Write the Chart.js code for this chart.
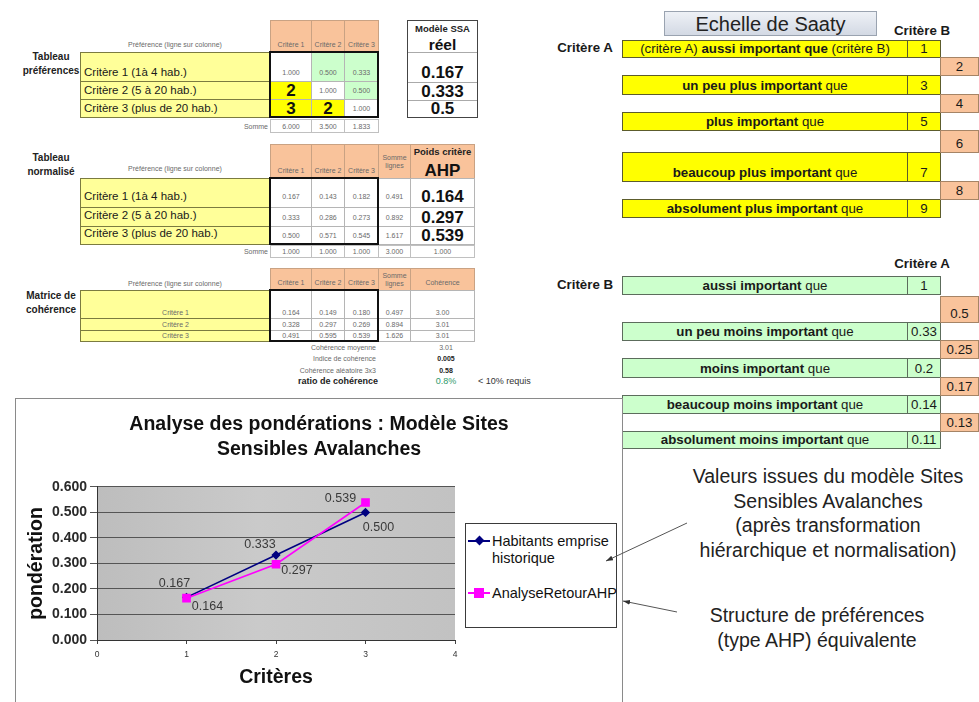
<!DOCTYPE html>
<html><head><meta charset="utf-8">
<script src="https://cdn.jsdelivr.net/npm/chart.js@4"></script>
<style>
html,body{margin:0;padding:0;background:#fff;}
body{width:979px;height:702px;overflow:hidden;position:relative;font-family:"Liberation Sans",Arial,sans-serif;color:#1a1a1a;}
.c{position:absolute;box-sizing:border-box;display:flex;align-items:center;justify-content:center;white-space:nowrap;line-height:1;}
.s{font-size:7px;color:#6a6a6a;}
</style></head><body>
<div id="stage"></div>
<div id="frame" style="position:absolute;left:15px;top:398px;width:608px;height:330px;border:1px solid #8a8a8a;box-sizing:border-box;background:#fff;">
<canvas id="chart" width="606" height="303" style="display:block;width:606px;height:303px"></canvas></div>
<div id="over"></div>
<svg width="979" height="702" style="position:absolute;left:0;top:0;pointer-events:none">
<defs><marker id="ah" markerWidth="8" markerHeight="8" refX="7" refY="4" orient="auto" markerUnits="userSpaceOnUse"><path d="M0,1.5 L7,4 L0,6.5 z" fill="#333"/></marker></defs>
<line x1="687" y1="523" x2="606" y2="561" stroke="#555" stroke-width="1" marker-end="url(#ah)"/>
<line x1="677" y1="612" x2="623" y2="601" stroke="#555" stroke-width="1" marker-end="url(#ah)"/>
</svg>
<script>
// ---------------- DATA ----------------
const criteria = ["Critère 1 (1à 4 hab.)","Critère 2 (5 à 20 hab.)","Critère 3 (plus de 20 hab.)"];
const colHeads = ["Critère 1","Critère 2","Critère 3"];
const prefMatrix = [["1.000","0.500","0.333"],["2","1.000","0.500"],["3","2","1.000"]];
const prefSums = ["6.000","3.500","1.833"];
const ssaReal = ["0.167","0.333","0.5"];
const normMatrix = [["0.167","0.143","0.182"],["0.333","0.286","0.273"],["0.500","0.571","0.545"]];
const normRowSums = ["0.491","0.892","1.617"];
const ahpWeights = ["0.164","0.297","0.539"];
const normSums = ["1.000","1.000","1.000","3.000","1.000"];
const cohMatrix = [["0.164","0.149","0.180"],["0.328","0.297","0.269"],["0.491","0.595","0.539"]];
const cohRowSums = ["0.497","0.894","1.626"];
const cohValues = ["3.00","3.01","3.01"];
const cohStatLabels = ["Cohérence moyenne","Indice de cohérence","Cohérence aléatoire 3x3"];
const cohStatValues = ["3.01","0.005","0.58"];
const cohRatio = "0.8%";
const saatyMore = ["aussi important","un peu plus important","plus important","beaucoup plus important","absolument plus important"];
const saatyMoreVals = ["1","3","5","7","9"];
const saatyMoreMid = ["2","4","6","8"];
const saatyLess = ["aussi important","un peu moins important","moins important","beaucoup moins important","absolument moins important"];
const saatyLessVals = ["1","0.33","0.2","0.14","0.11"];
const saatyLessMid = ["0.5","0.25","0.17","0.13"];
// chart
const chartTitle = ["Analyse des pondérations : Modèle Sites","Sensibles Avalanches"];
const xCriteres = [1,2,3];
const seriesNames = ["Habitants emprise historique","AnalyseRetourAHP"];
const habitants = [0.167,0.333,0.500];
const analyseRetourAHP = [0.164,0.297,0.539];
const yTickLabels = ["0.000","0.100","0.200","0.300","0.400","0.500","0.600"];
const xTickLabels = ["0","1","2","3","4"];

// ---------------- LAYOUT HELPERS ----------------
const stage = document.getElementById('stage');
function put(x,y,w,h,html,css,parent){
  const d=document.createElement('div');d.className='c';
  d.style.cssText=`left:${x}px;top:${y}px;width:${w}px;height:${h}px;`+(css||'');
  d.innerHTML=html||'';(parent||stage).appendChild(d);return d;
}
const ORANGE='#f9c39b', YEL='#ffff99', GRN='#ccffcc', YEL2='#ffff00', SGRN='#ccffcc';
const SMALL='font-size:7px;color:#6a6a6a;';
const LBL='font-size:10px;font-weight:bold;line-height:14px;text-align:center;white-space:normal;color:#222;';
const cols=[270,311,344,378,410,474];

function yellowRows(rows,labels,css){
  for(let i=0;i<3;i++) put(80,rows[i],191,rows[i+1]-rows[i]+1,labels[i],`background:${YEL};border:1px solid #7b7b40;`+css);
}
function header(y1,y2,heads){
  heads.forEach((h,j)=>put(cols[j],y1,cols[j+1]-cols[j]+1,y2-y1+1,h,`background:${ORANGE};border:1px solid #c9a283;align-items:flex-end;padding-bottom:4px;text-align:center;`+SMALL+(h.includes('<br>')?'line-height:8px;align-items:center;padding-bottom:0;':'')));
}

// ---- Section 1 ----
put(110,38,130,12,'Préférence (ligne sur colonne)',SMALL);
put(18,50,66,28,'Tableau<br>préférences',LBL);
const r1=[52,81,99,117];
yellowRows(r1,criteria,'justify-content:flex-start;padding-left:3px;font-size:11.5px;align-items:flex-end;padding-bottom:3px;');
header(20,52,colHeads);
const prefBg=[['#fff',GRN,GRN],[YEL2,'#fff',GRN],[YEL2,YEL2,'#fff']];
for(let i=0;i<3;i++)for(let j=0;j<3;j++){
  const v=prefMatrix[i][j], big=v.length===1;
  let css=`background:${prefBg[i][j]};border:1px solid #b5b5b5;`+(big?'font-size:17px;font-weight:bold;color:#111;':SMALL);
  if(i===0) css+='align-items:flex-end;padding-bottom:5.5px;';
  put(cols[j],r1[i],cols[j+1]-cols[j]+1,r1[i+1]-r1[i]+1,v,css);
}
put(269,51,110,67,'','border:2px solid #111;');
put(228,119,40,14,'Somme',SMALL+'justify-content:flex-end;');
prefSums.forEach((v,j)=>put(cols[j],119,cols[j+1]-cols[j]+1,14,v,'border:1px solid #c0c0c0;'+SMALL));
put(407,20,71,98,'','border:1px solid #444;');
put(407,22,71,14,'Modèle SSA','font-size:9.5px;font-weight:bold;color:#222;');
put(407,36,71,17,'réel','font-size:15.5px;font-weight:bold;color:#111;');
[52,82,100].forEach(y=>put(408,y,69,1,'','background:#aaa;'));
[[64,17],[82,18],[100,17]].forEach((r,i)=>put(407,r[0],71,r[1],ssaReal[i],'font-size:17px;font-weight:bold;color:#111;'));

// ---- Section 2 ----
put(110,162,130,12,'Préférence (ligne sur colonne)',SMALL);
put(18,151,66,28,'Tableau<br>normalisé',LBL);
const r2=[178,207,226,244];
yellowRows(r2,criteria,'justify-content:flex-start;padding-left:3px;font-size:11.5px;align-items:flex-end;padding-bottom:4.5px;');
header(144,178,colHeads.concat(['Somme<br>lignes']));
put(410,144,65,35,'',`background:${ORANGE};border:1px solid #c9a283;`);
put(410,146,65,12,'Poids critère','font-size:9.5px;font-weight:bold;color:#222;');
put(410,160,65,20,'AHP','font-size:17px;font-weight:bold;color:#111;');
for(let i=0;i<3;i++){
  const row=normMatrix[i].concat([normRowSums[i]]);
  row.forEach((v,j)=>{
    let css='background:#fff;border:1px solid #b5b5b5;'+SMALL+(i===0?'align-items:flex-end;padding-bottom:7.5px;':'');
    put(cols[j],r2[i],cols[j+1]-cols[j]+1,r2[i+1]-r2[i]+1,v,css);
  });
  put(410,r2[i],65,r2[i+1]-r2[i]+1,ahpWeights[i],'background:#fff;border:1px solid #b5b5b5;font-size:17px;font-weight:bold;color:#111;'+(i===0?'align-items:flex-end;padding-bottom:2.5px;':''));
}
put(269,177,110,68,'','border:2px solid #111;');
put(228,245,40,13,'Somme',SMALL+'justify-content:flex-end;');
normSums.forEach((v,j)=>put(cols[j],245,cols[j+1]-cols[j]+1,13,v,'border:1px solid #c0c0c0;'+SMALL));

// ---- Section 3 ----
put(110,277,130,12,'Préférence (ligne sur colonne)',SMALL);
put(18,289,66,28,'Matrice de<br>cohérence',LBL);
const r3=[290,318,330,341];
yellowRows(r3,colHeads,SMALL+'align-items:flex-end;padding-bottom:2px;');
header(268,290,colHeads.concat(['Somme<br>lignes','Cohérence']));
for(let i=0;i<3;i++){
  const row=cohMatrix[i].concat([cohRowSums[i],cohValues[i]]);
  row.forEach((v,j)=>put(cols[j],r3[i],cols[j+1]-cols[j]+1,r3[i+1]-r3[i]+1,v,'background:#fff;border:1px solid #b5b5b5;'+SMALL+'align-items:flex-end;padding-bottom:2px;'));
}
put(269,289,110,53,'','border:2px solid #111;');
const statY=[342,353,365];
cohStatLabels.forEach((l,i)=>{
  put(240,statY[i],136,11,l,SMALL+'justify-content:flex-end;');
  put(420,statY[i],52,11,cohStatValues[i],SMALL+(i>0?'font-weight:bold;color:#222;':''));
});
put(250,376,128,11,'ratio de cohérence','font-size:9px;font-weight:bold;color:#222;justify-content:flex-end;');
put(420,376,52,11,cohRatio,'font-size:9px;color:#2e9a6a;');
put(478,376,60,11,'&lt; 10% requis','font-size:9px;color:#333;justify-content:flex-start;');

// ---- Saaty scale ----
put(664,11,213,25,'Echelle de Saaty','background:linear-gradient(#eef1f6,#d3d9e4);border:1px solid #9aa3b0;font-size:20px;color:#222;');
const SB='font-size:13.3px;font-weight:bold;color:#1a1a1a;';
put(887,24,70,14,'Critère B',SB);
put(550,41,70,14,'Critère A',SB);
const moreRows=[[40,57],[75,94],[112,130],[152,181],[199,217]];
const moreMid=[[57,75],[94,112],[130,152],[181,199]];
const ROWCSS='font-size:13.3px;color:#1a1a1a;align-items:flex-end;padding-bottom:2px;';
moreRows.forEach((r,i)=>{
  const txt=i===0?`(critère A) <b>&nbsp;${saatyMore[i]} que</b>&nbsp;(critère B)`:`<b>${saatyMore[i]}</b>&nbsp;que`;
  put(622,r[0],286,r[1]-r[0]+1,txt,`background:${YEL2};border:1px solid #5c5c2c;`+ROWCSS);
  put(907,r[0],34,r[1]-r[0]+1,saatyMoreVals[i],`background:${YEL2};border:1px solid #5c5c2c;`+ROWCSS);
});
moreMid.forEach((r,i)=>put(940,r[0],39,r[1]-r[0]+1,saatyMoreMid[i],`background:${ORANGE};border:1px solid #a58466;`+ROWCSS));
put(887,257,70,14,'Critère A',SB);
put(550,278,70,14,'Critère B',SB);
const lessRows=[[276,294],[322,340],[358,377],[395,413],[431,448]];
const lessMid=[[296,322],[340,358],[377,395],[413,431]];
lessRows.forEach((r,i)=>{
  put(622,r[0],286,r[1]-r[0]+1,`<b>${saatyLess[i]}</b>&nbsp;que`,`background:${SGRN};border:1px solid #5c6c5c;`+ROWCSS);
  put(907,r[0],34,r[1]-r[0]+1,saatyLessVals[i],`background:${SGRN};border:1px solid #5c6c5c;`+ROWCSS);
});
lessMid.forEach((r,i)=>put(940,r[0],39,r[1]-r[0]+1,saatyLessMid[i],`background:${ORANGE};border:1px solid #a58466;`+ROWCSS));

// ---- annotations ----
const over=document.getElementById('over');
put(663,464,330,98,'Valeurs issues du modèle Sites<br>Sensibles Avalanches<br>(après transformation<br>hiérarchique et normalisation)','font-size:19.5px;line-height:24.5px;text-align:center;color:#222;align-items:flex-start;',over);
put(652,603,330,50,'Structure de préférences<br>(type AHP) équivalente','font-size:19.5px;line-height:24.5px;text-align:center;color:#222;align-items:flex-start;',over);

// ---- legend (HTML) ----
const serColors=['#000080','#ff00ff'];
put(465,523,152,105,'','border:1px solid #3a3a3a;background:#fff;',over);
put(468,540,22,2,'',`background:${serColors[0]};`,over);
put(475.5,537,7,7,'',`background:${serColors[0]};transform:rotate(45deg);`,over);
put(492,533,124,34,'Habitants emprise<br>historique','font-size:14.5px;line-height:16.5px;color:#111;justify-content:flex-start;align-items:flex-start;',over);
put(468,592,22,2,'',`background:${serColors[1]};`,over);
put(474,588,10,10,'',`background:${serColors[1]};`,over);
put(492,585,124,17,seriesNames[1],'font-size:14.5px;line-height:16.5px;color:#111;justify-content:flex-start;align-items:flex-start;',over);

// ---------------- CHART ----------------
Chart.defaults.font.family='"Liberation Sans", Arial, sans-serif';
const labelOffsets=[[[-12,-14],[-16,-10],[13,15]],[[21,8],[21,6],[-25,-4]]];
const bgPlugin={id:'plotbg',beforeDraw(c){const {ctx,chartArea:a}=c;const g=ctx.createLinearGradient(a.left,0,a.right,0);
  g.addColorStop(0,'#bdbdbd');g.addColorStop(0.45,'#cacaca');g.addColorStop(1,'#c2c2c2');
  ctx.save();ctx.fillStyle=g;ctx.fillRect(a.left,a.top,a.right-a.left,a.bottom-a.top);ctx.restore();}};
const labelPlugin={id:'vlabels',afterDatasetsDraw(c){const ctx=c.ctx;ctx.save();
  ctx.font='12.5px "Liberation Sans", Arial, sans-serif';ctx.fillStyle='#3a3a3a';ctx.textAlign='center';ctx.textBaseline='middle';
  c.data.datasets.forEach((ds,di)=>{c.getDatasetMeta(di).data.forEach((pt,i)=>{const o=labelOffsets[di][i];
    ctx.fillText(ds.data[i].y.toFixed(3),pt.x+o[0],pt.y+o[1]);});});ctx.restore();}};
new Chart(document.getElementById('chart'),{
  type:'line',
  data:{datasets:[
    {label:seriesNames[0],data:xCriteres.map((x,i)=>({x,y:habitants[i]})),borderColor:serColors[0],backgroundColor:serColors[0],borderWidth:1.6,pointStyle:'rectRot',pointRadius:3.5,order:2},
    {label:seriesNames[1],data:xCriteres.map((x,i)=>({x,y:analyseRetourAHP[i]})),borderColor:serColors[1],backgroundColor:serColors[1],borderWidth:1.6,pointStyle:'rect',pointRadius:5,order:1}
  ]},
  options:{
    responsive:false,animation:false,devicePixelRatio:1,
    layout:{padding:{left:0,right:0,top:0,bottom:0}},
    plugins:{legend:{display:false},tooltip:{enabled:false},
      title:{display:true,text:chartTitle,color:'#111',font:{size:19.5,weight:'bold',lineHeight:1.28},padding:{top:13.5,bottom:24.5}}},
    scales:{
      x:{type:'linear',min:0,max:4,
        ticks:{stepSize:1,font:{size:8.5},color:'#333',padding:6,callback:(v,i)=>xTickLabels[i]??String(v)},
        grid:{drawOnChartArea:false,tickLength:4,color:'#444'},border:{color:'#333',width:1},
        title:{display:true,text:'Critères',color:'#111',font:{size:19.5,weight:'bold'},padding:{top:0,bottom:12.3}},
        afterFit(s){s.height=62;}},
      y:{min:0,max:0.6,
        ticks:{stepSize:0.1,font:{size:14,weight:'bold'},color:'#2a2a2a',padding:3,callback:(v,i)=>yTickLabels[i]??v.toFixed(3)},
        grid:{color:'#555',tickLength:7},border:{color:'#333',width:1},
        title:{display:true,text:'pondération',color:'#111',font:{size:19.5,weight:'bold'},padding:{top:9.3,bottom:0}},
        afterFit(s){s.width=81;}},
      yLegendSpace:{position:'right',min:0,max:1,
        ticks:{display:false},grid:{display:false,drawOnChartArea:false},border:{display:false},
        afterFit(s){s.width=167;}}
    }
  },
  plugins:[bgPlugin,labelPlugin]
});
</script>
</body></html>
